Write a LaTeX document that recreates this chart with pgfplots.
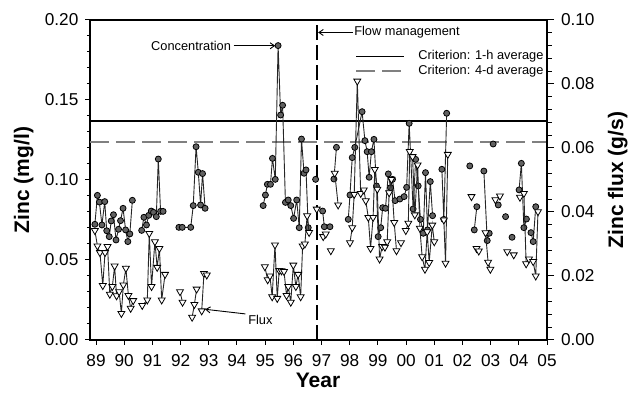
\documentclass[border=0pt]{standalone}
\usepackage{fontspec}
\setmainfont{Liberation Sans}
\usepackage{pgfplots}
\usepackage{pgfplotstable}
\pgfplotsset{compat=1.18}
\usetikzlibrary{arrows.meta}

\newcommand\annfont{\fontsize{6.4}{7.5}\selectfont}
\newcommand\tickfont{\fontsize{8.6}{10}\selectfont}
\newcommand\labfont{\fontsize{10.5}{12}\selectfont\bfseries}

\pgfplotstableread{
x y
88.96 0.0723
89.05 0.0904
89.12 0.0862
89.21 0.0719
89.31 0.0865
89.38 0.0683
89.47 0.0646
89.54 0.0744
89.62 0.0783
89.71 0.0625
89.80 0.0692
89.87 0.0746
89.96 0.0823
90.05 0.0688
90.13 0.0615
90.20 0.0663
90.29 0.0873
90.45 nan
90.62 0.0685
90.70 0.0767
90.79 0.0719
90.87 0.0779
90.96 0.0806
91.04 0.0798
91.14 0.0771
91.21 0.1131
91.29 0.0804
91.38 0.0804
91.60 nan
91.94 0.0704
92.06 0.0704
92.36 0.0704
92.45 0.0840
92.55 0.1208
92.63 0.1048
92.71 0.0844
92.78 0.1040
92.87 0.0823
93.50 nan
94.93 0.0840
95.01 0.0906
95.08 0.0973
95.19 0.0973
95.26 0.1135
95.36 0.1004
95.46 0.1840
95.55 0.1406
95.62 0.1467
95.72 0.0860
95.82 0.0875
95.91 0.0840
96.01 0.0760
96.12 0.0875
96.21 0.0702
96.29 0.1256
96.38 0.1042
96.45 0.1063
96.53 0.0702
96.60 nan
96.79 0.1004
96.90 nan
97.04 0.0806
97.10 0.0708
97.30 0.0708
97.37 nan
97.44 0.1006
97.53 0.1204
97.70 nan
97.95 0.0754
98.01 0.0906
98.09 0.1140
98.18 0.1204
98.44 0.1427
98.54 0.1246
98.62 0.1177
98.69 0.1017
98.77 0.1177
98.86 0.1254
98.95 0.0963
99.01 0.0646
99.10 0.0702
99.17 0.0827
99.27 0.0823
99.37 0.1038
99.45 0.0952
99.52 0.1004
99.61 0.0871
99.78 0.0881
99.93 0.0896
100.02 0.0954
100.11 0.1354
100.25 0.0819
100.34 0.1129
100.43 0.0963
100.51 0.0754
100.61 0.0667
100.69 0.1046
100.76 0.0688
100.86 0.0990
100.94 0.0777
101.10 nan
101.27 0.1067
101.34 0.0754
101.44 0.1417
101.80 nan
102.26 0.1088
102.35 nan
102.42 0.0688
102.51 0.0833
102.60 nan
102.76 0.1056
102.88 0.0621
102.95 0.0667
103.02 nan
103.09 0.1225
103.18 nan
103.27 0.0844
103.40 nan
103.53 0.0771
103.65 nan
103.76 0.0642
103.90 nan
104.01 0.0938
104.09 0.1104
104.18 0.0702
104.27 0.0756
104.35 nan
104.43 0.0671
104.51 0.0615
104.60 0.0833
}\conc

\pgfplotstableread{
x y
88.96 0.0342
89.05 0.0294
89.14 0.0273
89.24 0.0170
89.32 0.0273
89.41 0.0292
89.49 0.0143
89.58 0.0167
89.66 0.0231
89.73 0.0138
89.82 0.0151
89.90 0.0083
89.97 0.0172
90.06 0.0224
90.15 0.0139
90.23 0.0099
90.32 0.0123
90.45 nan
90.64 0.0108
90.82 0.0125
90.89 0.0333
90.97 0.0167
91.09 0.0307
91.17 0.0227
91.25 0.0286
91.33 0.0125
91.45 0.0205
91.70 nan
91.98 0.0151
92.07 0.0118
92.25 nan
92.41 0.0071
92.49 0.0111
92.57 0.0159
92.66 nan
92.75 0.0091
92.83 0.0208
92.93 0.0203
93.50 nan
94.99 0.0229
95.09 0.0188
95.17 0.0200
95.25 0.0135
95.35 0.0297
95.43 0.0130
95.50 0.0217
95.58 0.0216
95.67 0.0214
95.76 0.0139
95.82 0.0167
95.91 0.0118
96.00 0.0234
96.09 0.0167
96.17 0.0205
96.26 0.0135
96.33 0.0294
96.41 0.0300
96.49 0.0388
96.56 0.0336
96.70 nan
96.83 0.0409
96.95 nan
97.06 0.0323
97.15 0.0331
97.25 nan
97.33 0.0279
97.40 nan
97.47 0.0521
97.59 0.0422
97.80 nan
98.01 0.0304
98.09 0.0351
98.16 0.0455
98.27 0.0809
98.39 0.0458
98.50 0.0469
98.57 0.0435
98.66 0.0383
98.74 0.0286
98.83 0.0383
98.89 0.0533
98.98 0.0471
99.06 0.0253
99.15 0.0292
99.25 0.0290
99.33 0.0307
99.40 0.0460
99.48 0.0502
99.58 0.0367
99.66 0.0279
99.74 nan
99.82 0.0304
99.90 nan
99.99 0.0342
100.08 0.0365
100.13 0.0589
100.23 0.0573
100.31 0.0391
100.41 0.0547
100.49 0.0349
100.57 0.0260
100.67 0.0221
100.75 0.0338
100.82 0.0242
100.93 0.0359
101.00 0.0307
101.15 nan
101.34 0.0375
101.40 0.0240
101.48 0.0580
101.90 nan
102.32 0.0448
102.40 nan
102.50 0.0286
102.58 0.0278
102.70 nan
102.82 0.0335
102.91 0.0243
102.99 0.0221
103.08 nan
103.17 0.0438
103.33 0.0450
103.45 nan
103.59 0.0276
103.70 nan
103.82 0.0266
103.93 nan
104.04 0.0446
104.18 0.0458
104.26 0.0238
104.36 0.0253
104.44 nan
104.51 0.0245
104.60 0.0200
104.68 0.0401
}\flux

\begin{document}
\begin{tikzpicture}
\path[use as bounding box] (-45pt,-30pt) rectangle (270pt,170pt);
\begin{axis}[
  width=228.5pt, height=160pt, scale only axis,
  xmin=88.787, xmax=105, ymin=0, ymax=0.2,
  xtick={89,90,91,92,93,94,95,96,97,98,99,100,101,102,103,104,105},
  xticklabels={89,90,91,92,93,94,95,96,97,98,99,00,01,02,03,04,05},
  ytick={0,0.05,0.10,0.15,0.20},
  minor y tick num=4,
  xtick pos=bottom, ytick pos=left,
  tick align=outside,
  major tick length=2.3pt, minor tick length=1.5pt,
  tick style={black, line width=0.5pt},
  axis line style={line width=0.6pt},
  /pgf/number format/assume math mode=true,
  yticklabel style={/pgf/number format/.cd, fixed, fixed zerofill, precision=2},
  ticklabel style={font=\tickfont},
  xticklabel style={yshift=-1.5pt},
  xlabel={Year}, ylabel={Zinc (mg/l)},
  label style={font=\labfont},
  xlabel style={at={(axis description cs:0.499,-0.125)}, anchor=center},
  ylabel style={at={(axis description cs:-0.145,0.5)}, anchor=center},
  unbounded coords=jump,
  clip=false,
  legend style={draw=none, fill=none, at={(axis description cs:0.5799,0.911)}, anchor=north west,
    inner sep=0pt, row sep=0pt, font=\annfont,
    nodes={inner sep=0pt, text height=5.25pt, text depth=2.25pt}},
  legend cell align=left,
  legend image code/.code={\draw[#1] (0pt,0pt) -- (24pt,0pt); \path (30.5pt,0pt);},
]
\addplot[black, line width=0.85pt] coordinates {(88.787,0.137) (105,0.137)};
\addlegendentry{Criterion: 1-h average}
\addplot[black!50, line width=1pt, dash pattern=on 9.5pt off 3.5pt] coordinates {(88.787,0.124) (105,0.124)};
\addlegendentry{Criterion: 4-d average}
\addplot[black, line width=0.9pt, dash pattern=on 7.5pt off 2.5pt, forget plot] coordinates {(96.83,0) (96.83,0.2)};
\addplot[black!85, line width=0.45pt, mark=*, mark size=1.5pt,
  mark options={fill=black!62, draw=black, line width=0.4pt, solid}, forget plot] table[x=x,y=y] {\conc};
\node[anchor=east, font=\annfont, inner sep=0pt] at (axis cs:93.80,0.1839) {Concentration};
\draw[line width=0.45pt, -{Straight Barb[length=2.2pt,width=3pt]}] (axis cs:93.88,0.1839) -- (axis cs:95.36,0.1839);
\node[anchor=west, font=\annfont, inner sep=0pt] at (axis cs:98.15,0.1922) {Flow management};
\draw[line width=0.45pt, -{Straight Barb[length=2.2pt,width=3pt]}] (axis cs:98.10,0.1922) -- (axis cs:96.88,0.1922);
\node[anchor=west, font=\annfont, inner sep=0pt] at (axis cs:94.39,0.0125) {Flux};
\draw[line width=0.45pt, -{Straight Barb[length=2.2pt,width=3pt]}] (axis cs:94.30,0.0163) -- (axis cs:92.87,0.0192);
\end{axis}
\begin{axis}[
  width=228.5pt, height=160pt, scale only axis,
  xmin=88.787, xmax=105, ymin=0, ymax=0.1,
  axis x line=none, axis y line*=right,
  ytick={0,0.02,0.04,0.06,0.08,0.10},
  minor y tick num=4,
  ytick pos=right,
  tick align=outside,
  major tick length=3.5pt, minor tick length=2.3pt,
  tick style={black, line width=0.5pt},
  axis line style={line width=0.6pt},
  /pgf/number format/assume math mode=true,
  yticklabel style={/pgf/number format/.cd, fixed, fixed zerofill, precision=2},
  ticklabel style={font=\tickfont},
  ylabel={Zinc flux (g/s)},
  label style={font=\labfont},
  ylabel style={at={(axis description cs:1.155,0.5)}, anchor=center},
  unbounded coords=jump,
]
\addplot[black!85, line width=0.45pt, mark=triangle*, mark size=2pt,
  mark options={fill=white, draw=black, line width=0.4pt, rotate=180, solid}] table[x=x,y=y] {\flux};
\end{axis}
\end{tikzpicture}
\end{document}
